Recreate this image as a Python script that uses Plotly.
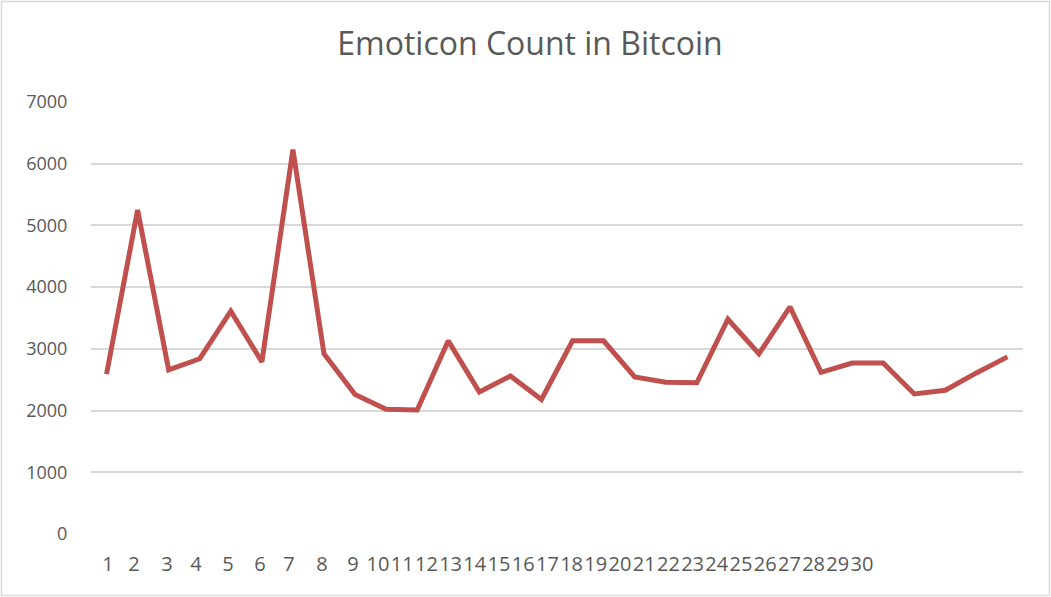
import plotly.graph_objects as go

# ---- data ----
days = list(range(1, 31))
emoticon_count = [2590, 5250, 2660, 2840, 3610, 2790, 6230, 2920, 2260, 2020,
                  2010, 3130, 2300, 2560, 2180, 3130, 3130, 2545, 2460, 2450,
                  3480, 2920, 3680, 2620, 2770, 2770, 2270, 2330, 2610, 2870]
tick_labels = [str(d) for d in days]
y_ticks = [0, 1000, 2000, 3000, 4000, 5000, 6000, 7000]

# ---- layout helpers ----
W, H = 1051, 597
L, R, T, B = 91, 28, 102, 63
plot_w = W - L - R
x_range = [0.5, 30.5]
unit = plot_w / (x_range[1] - x_range[0])

# label centres as rendered in the reference (single digits spaced,
# two-digit labels packed together)
label_px = [108, 134, 167, 196, 228, 260, 289, 322, 353] + \
           [378 + 24.2 * k for k in range(21)]
tick_vals = [(p - L) / unit + x_range[0] for p in label_px]

grey = "#595959"
font = "Open Sans, Lato, sans-serif"

fig = go.Figure()
fig.add_trace(go.Scatter(
    x=days, y=emoticon_count, mode="lines",
    line=dict(color="#c0504d", width=5),
    hoverinfo="x+y", showlegend=False,
))

fig.update_layout(
    width=W, height=H,
    margin=dict(l=L, r=R, t=T, b=B),
    paper_bgcolor="white", plot_bgcolor="white",
    title=dict(text="Emoticon Count in Bitcoin", x=530 / W, xanchor="center",
               y=1 - 44 / H, yanchor="middle", yref="container",
               font=dict(family=font, size=32, color=grey)),
    xaxis=dict(range=x_range, tickmode="array", tickvals=tick_vals,
               ticktext=tick_labels, showgrid=False, zeroline=False,
               showline=False, ticks="outside", ticklen=12, tickangle=0,
               tickcolor="rgba(0,0,0,0)",
               tickfont=dict(family=font, size=20, color=grey)),
    yaxis=dict(range=[0, 7000], tickmode="array", tickvals=y_ticks,
               showgrid=True, gridcolor="#d9d9d9", gridwidth=1.5,
               zeroline=False, showline=False, ticks="outside", ticklen=19,
               tickcolor="rgba(0,0,0,0)",
               tickfont=dict(family=font, size=18, color=grey)),
    shapes=[dict(type="rect", xref="paper", yref="paper",
                 x0=(1.5 - L) / plot_w, x1=(1049.5 - L) / plot_w,
                 y0=-(595.5 - (H - B)) / (H - T - B),
                 y1=1 + (T - 1.5) / (H - T - B),
                 line=dict(color="#d9d9d9", width=1.5), layer="below")],
)

fig.write_html("out.html")
